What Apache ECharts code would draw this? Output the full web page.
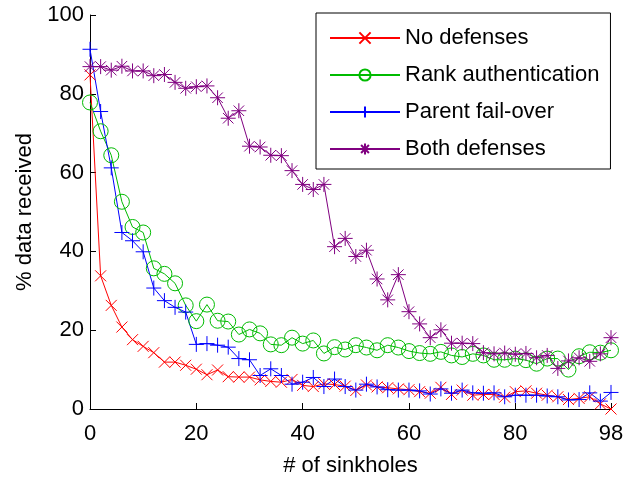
<!DOCTYPE html>
<html>
<head>
<meta charset="utf-8">
<script src="https://cdn.jsdelivr.net/npm/echarts@6/dist/echarts.min.js"></script>
<style>html,body{margin:0;padding:0;background:#fff}#c{width:631px;height:480px}</style>
</head>
<body>
<div id="c"></div>
<script>
const sinkholes = [0,2,4,6,8,10,12,14,16,18,20,22,24,26,28,30,32,34,36,38,40,42,44,46,48,50,52,54,56,58,60,62,64,66,68,70,72,74,76,78,80,82,84,86,88,90,92,94,96,98];
const noDefenses = [84.8,33.8,26.3,20.8,17.6,15.9,14.3,11.9,11.9,11.1,10.1,8.7,9.9,8.2,8.1,8.1,7.4,7,6.8,7.5,6,5.7,6.4,6.2,5.8,4.7,6.1,5.6,5.4,5.1,4.9,4.4,4,5.5,3.7,4.8,3.5,3.7,3.7,3,4.4,4.6,4,3.5,3.1,2.4,2.7,3.1,1.3,0];
const rankAuth = [77.8,70.5,64.4,52.6,46.2,44.8,35.7,34.3,31.9,26.3,22.3,26.5,22.4,22.2,18.9,20.2,19.2,16.4,16.2,18.1,16.6,17.4,14.1,15.7,15.1,16.2,15.6,14.9,16.2,15.6,14.7,14.2,14,14.5,13.6,13.2,14,13.6,12.5,12.5,12.8,12.4,11.5,12.8,12.8,10,13.4,14.4,14.3,14.9];
const parentFailover = [91.3,75.5,61.2,44.8,42.7,39.9,30.7,27.5,25.8,24.6,16.4,16.6,16.2,15.7,12.8,12.5,8.5,10.2,8.5,6.3,6.8,8,5.7,7.6,5.7,4.8,6.3,5.6,4.9,4.8,4.8,4.6,3.8,5.1,4,4.8,4.1,4,4.1,3.1,3.5,3.5,3.5,3.3,3.1,2.3,2.4,4.1,2,4.2];
const bothDefenses = [86.9,86.9,86,87,85.8,85.8,84.6,84.9,82.9,81.4,81.8,82,79,73.8,75.7,66.7,66.5,64.4,64.3,60.5,57,55.7,57,41.2,43.3,38.7,40.3,33,27.7,34.1,24.7,21.6,18.1,20.1,16.7,16.7,16.6,14.3,14,14.2,13.9,14.1,13,13.6,10.3,12.2,13,12.1,14,18.1];
const xTicks = [0,20,40,60,80,98];
const yTicks = [0,20,40,60,80,100];
const seriesNames = ['No defenses','Rank authentication','Parent fail-over','Both defenses'];

const FONT = 'Liberation Sans, Arial, Helvetica, sans-serif';
const SYM_X = 'path://M0,0L10,10M10,0L0,10';
const SYM_PLUS = 'path://M5,0L5,10M0,5L10,5';
const SYM_STAR = 'path://M5,0L5,10M0,5L10,5M1.5,1.5L8.5,8.5M8.5,1.5L1.5,8.5';

function pairs(arr){ return sinkholes.map((x,i)=>[x,arr[i]]); }
function mk(name, data, color, symbol, size){
  return {
    name, type:'line', data: pairs(data),
    symbol, symbolSize:size, showAllSymbol:true,
    lineStyle:{color, width:1},
    itemStyle:{color: symbol==='circle' ? 'rgba(0,0,0,0)' : color, borderColor:color, borderWidth:1},
    emphasis:{disabled:true}
  };
}
const chart = echarts.init(document.getElementById('c'), null, {renderer:'canvas'});
chart.setOption({
  animation:false,
  backgroundColor:'#fff',
  grid:{left:90, right:20, top:15, bottom:71, containLabel:false, outerBoundsMode:'none'},
  legend:{
    orient:'vertical', left:316, top:13,
    data: seriesNames,
    itemWidth:70, itemHeight:14, itemGap:15,
    padding:[14,11,9,13],
    borderColor:'#000', borderWidth:1, backgroundColor:'#fff',
    textStyle:{fontFamily:FONT, fontSize:22, color:'#000', lineHeight:22},
    selectedMode:false
  },
  xAxis:{
    type:'value', min:0, max:98,
    name:'# of sinkholes', nameLocation:'middle', nameGap:46,
    nameTextStyle:{fontFamily:FONT, fontSize:22, color:'#000'},
    axisLine:{show:true, lineStyle:{color:'#000', width:1}},
    axisTick:{show:true, inside:true, length:6, lineStyle:{color:'#000'}, customValues:xTicks},
    axisLabel:{fontFamily:FONT, fontSize:22, color:'#000', margin:14, customValues:xTicks},
    splitLine:{show:false}
  },
  yAxis:{
    type:'value', min:0, max:100, interval:20,
    name:'% data received', nameLocation:'middle', nameGap:54,
    nameTextStyle:{fontFamily:FONT, fontSize:22, color:'#000'},
    axisLine:{show:true, lineStyle:{color:'#000', width:1}},
    axisTick:{show:true, inside:true, length:6, lineStyle:{color:'#000'}, customValues:yTicks},
    axisLabel:{fontFamily:FONT, fontSize:22, color:'#000', margin:6, customValues:yTicks},
    splitLine:{show:false}
  },
  series:[
    mk(seriesNames[0], noDefenses, '#ff0000', SYM_X, 11),
    mk(seriesNames[1], rankAuth, '#00bb00', 'circle', 15),
    mk(seriesNames[2], parentFailover, '#0000ff', SYM_PLUS, 15),
    mk(seriesNames[3], bothDefenses, '#800080', SYM_STAR, 15)
  ]
});
</script>
</body>
</html>
